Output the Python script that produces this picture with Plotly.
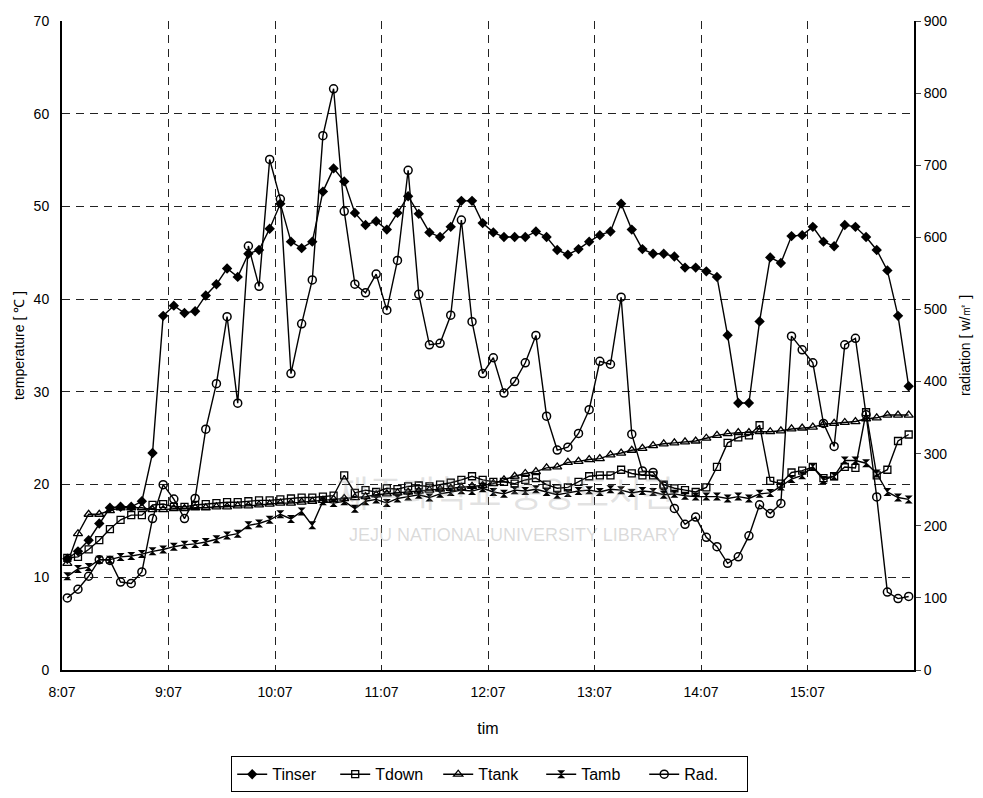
import plotly.graph_objects as go

# Sampling: one reading every 6 minutes starting 8:10
start_min = 8 * 60 + 10
step_min = 6
n_points = 80
times = [f"{(start_min + step_min * i) // 60}:{(start_min + step_min * i) % 60:02d}" for i in range(n_points)]

# Temperatures [°C]
t_inser = [12.0, 12.8, 14.0, 15.8, 17.5, 17.6, 17.6, 18.2, 23.4, 38.2,
           39.3, 38.5, 38.7, 40.4, 41.6, 43.3, 42.4, 44.9, 45.3, 47.6,
           50.3, 46.2, 45.5, 46.2, 51.6, 54.1, 52.7, 49.3, 48.0, 48.4,
           47.5, 49.3, 51.1, 49.2, 47.2, 46.7, 47.8, 50.6, 50.6, 48.2,
           47.2, 46.7, 46.7, 46.7, 47.3, 46.7, 45.3, 44.8, 45.4, 46.2,
           46.9, 47.3, 50.3, 47.5, 45.4, 44.9, 44.9, 44.6, 43.4, 43.4,
           43.0, 42.4, 36.1, 28.8, 28.8, 37.6, 44.5, 43.9, 46.8, 46.9,
           47.8, 46.2, 45.7, 48.0, 47.8, 46.7, 45.3, 43.1, 38.2, 30.6]

t_down = [12.1, 12.2, 13.0, 14.0, 15.2, 16.2, 16.7, 16.7, 17.8, 17.9,
          17.6, 17.6, 17.8, 17.9, 18.0, 18.1, 18.1, 18.2, 18.3, 18.3,
          18.4, 18.5, 18.6, 18.6, 18.7, 18.8, 21.0, 19.1, 19.4, 19.2,
          19.6, 19.5, 19.8, 19.9, 19.8, 20.0, 20.2, 20.5, 20.9, 20.5,
          20.3, 20.3, 20.1, 20.5, 20.7, 20.0, 19.6, 19.7, 20.3, 20.9,
          21.0, 21.0, 21.6, 21.2, 21.0, 21.0, 20.0, 19.6, 19.4, 19.2,
          19.7, 21.9, 24.5, 25.1, 25.3, 26.4, 20.4, 20.1, 21.3, 21.5,
          21.9, 20.7, 20.9, 21.9, 21.8, 27.8, 21.0, 21.6, 24.7, 25.4]

t_tank = [11.5, 14.7, 16.8, 16.8, 17.2, 17.5, 17.5, 17.5, 17.3, 17.3,
          17.4, 17.4, 17.5, 17.5, 17.6, 17.6, 17.7, 17.7, 17.8, 17.9,
          18.0, 18.0, 18.1, 18.2, 18.3, 18.4, 18.5, 18.6, 18.7, 18.9,
          19.0, 19.1, 19.2, 19.3, 19.4, 19.5, 19.6, 19.7, 19.8, 19.9,
          20.1, 20.5, 20.9, 21.2, 21.4, 21.8, 21.9, 22.4, 22.5, 22.7,
          22.8, 23.2, 23.4, 23.7, 23.9, 24.2, 24.4, 24.5, 24.6, 24.7,
          25.0, 25.3, 25.5, 25.6, 25.6, 25.7, 25.7, 25.8, 26.0, 26.1,
          26.2, 26.5, 26.6, 26.7, 26.8, 27.1, 27.2, 27.5, 27.5, 27.5]

t_amb = [10.1, 10.9, 11.1, 11.9, 11.9, 12.2, 12.3, 12.5, 12.8, 13.0,
         13.3, 13.5, 13.6, 13.8, 14.1, 14.5, 14.7, 15.6, 15.8, 16.2,
         16.8, 16.3, 17.1, 15.6, 18.2, 18.0, 18.2, 17.4, 18.2, 18.4,
         18.0, 18.5, 18.7, 18.9, 18.6, 19.0, 19.2, 19.4, 19.3, 19.6,
         19.2, 19.0, 19.4, 19.3, 19.5, 19.2, 18.9, 19.1, 19.3, 19.4,
         19.2, 19.5, 19.4, 19.1, 19.3, 19.2, 18.9, 19.0, 18.8, 18.7,
         18.7, 18.7, 18.5, 18.7, 18.5, 19.0, 19.1, 19.8, 20.6, 21.0,
         21.9, 20.5, 20.9, 22.6, 22.6, 22.3, 21.2, 19.2, 18.6, 18.4]

# Solar radiation [W/m2]
rad = [100, 112, 130, 153, 152, 122, 120, 136, 210, 257,
       237, 210, 238, 334, 397, 490, 370, 588, 532, 708,
       653, 411, 480, 541, 741, 806, 636, 535, 523, 549,
       499, 568, 693, 521, 451, 453, 492, 624, 483, 411,
       433, 384, 400, 426, 464, 352, 305, 309, 328, 361,
       428, 424, 517, 327, 276, 274, 255, 224, 202, 212,
       184, 171, 148, 157, 186, 229, 217, 231, 463, 444,
       426, 342, 310, 451, 460, 354, 240, 108, 99, 102]

# Hourly axis labels
tick_labels = ["8:07", "9:07", "10:07", "11:07", "12:07", "13:07", "14:07", "15:07"]
axis_start = 8 * 60 + 7


def to_minutes(s):
    h, m = s.split(":")
    return int(h) * 60 + int(m)


x = [to_minutes(t) for t in times]
tick_vals = [to_minutes(t) for t in tick_labels]

FONT = "Liberation Sans, Arial, sans-serif"
line = dict(color="black", width=1.4)

fig = go.Figure()
series = [
    ("Tinser", t_inser, dict(symbol="diamond", size=8, color="black"), "y"),
    ("Tdown", t_down, dict(symbol="square-open", size=7, color="black", line=dict(width=1.3)), "y"),
    ("Ttank", t_tank, dict(symbol="triangle-up-open", size=8, color="black", line=dict(width=1.3)), "y"),
    ("Tamb", t_amb, dict(symbol="hourglass", size=8, color="black"), "y"),
    ("Rad.", rad, dict(symbol="circle-open", size=8, color="black", line=dict(width=1.5)), "y2"),
]
for name, vals, mk, ax in series:
    fig.add_trace(go.Scatter(x=x, y=vals, name=name, mode="lines+markers",
                             line=line, marker=mk, yaxis=ax))

grid = dict(showgrid=True, gridcolor="#222222", gridwidth=1, griddash="8px,6px")

fig.update_layout(
    width=983, height=798,
    margin=dict(l=62, r=69, t=21, b=128, autoexpand=False),
    paper_bgcolor="white", plot_bgcolor="white",
    font=dict(family=FONT, size=14, color="black"),
    showlegend=True,
    legend=dict(orientation="h", x=0.502, xanchor="center", y=-0.133, yanchor="top",
                bordercolor="black", borderwidth=1, font=dict(size=16),
                entrywidth=58, entrywidthmode="pixels", itemwidth=30,
                tracegroupgap=0),
    xaxis=dict(range=[axis_start, axis_start + 480], tickvals=tick_vals, ticktext=tick_labels,
               showline=True, linecolor="black", linewidth=2, ticks="", zeroline=False,
               ticklabelstandoff=8, automargin=False,
               title=dict(text="tim", font=dict(size=16), standoff=24), **grid),
    yaxis=dict(range=[0, 70], dtick=10, showline=True, linecolor="black", linewidth=2,
               ticks="", zeroline=False, ticklabelstandoff=8, automargin=False,
               title=dict(text="temperature [ ℃ ]", font=dict(size=14), standoff=6), **grid),
    yaxis2=dict(range=[0, 900], dtick=100, overlaying="y", side="right",
                showline=True, linecolor="black", linewidth=2, ticks="outside", ticklen=5,
                showgrid=False, zeroline=False, automargin=False,
                title=dict(text="radiation [ w/㎡ ]", font=dict(size=14), standoff=14)),
)

# faint library watermark across the plot
fig.add_annotation(x=0.52, y=0.232, xref="paper", yref="paper", text="제주대학교 중앙도서관",
                   showarrow=False, font=dict(family="Noto Sans CJK KR", size=36,
                                              color="rgba(140,140,140,0.25)"))
fig.add_annotation(x=0.53, y=0.19, xref="paper", yref="paper", text="JEJU NATIONAL UNIVERSITY LIBRARY",
                   showarrow=False, font=dict(family=FONT, size=18, color="rgba(150,150,150,0.35)"))

fig.write_html("out.html")
